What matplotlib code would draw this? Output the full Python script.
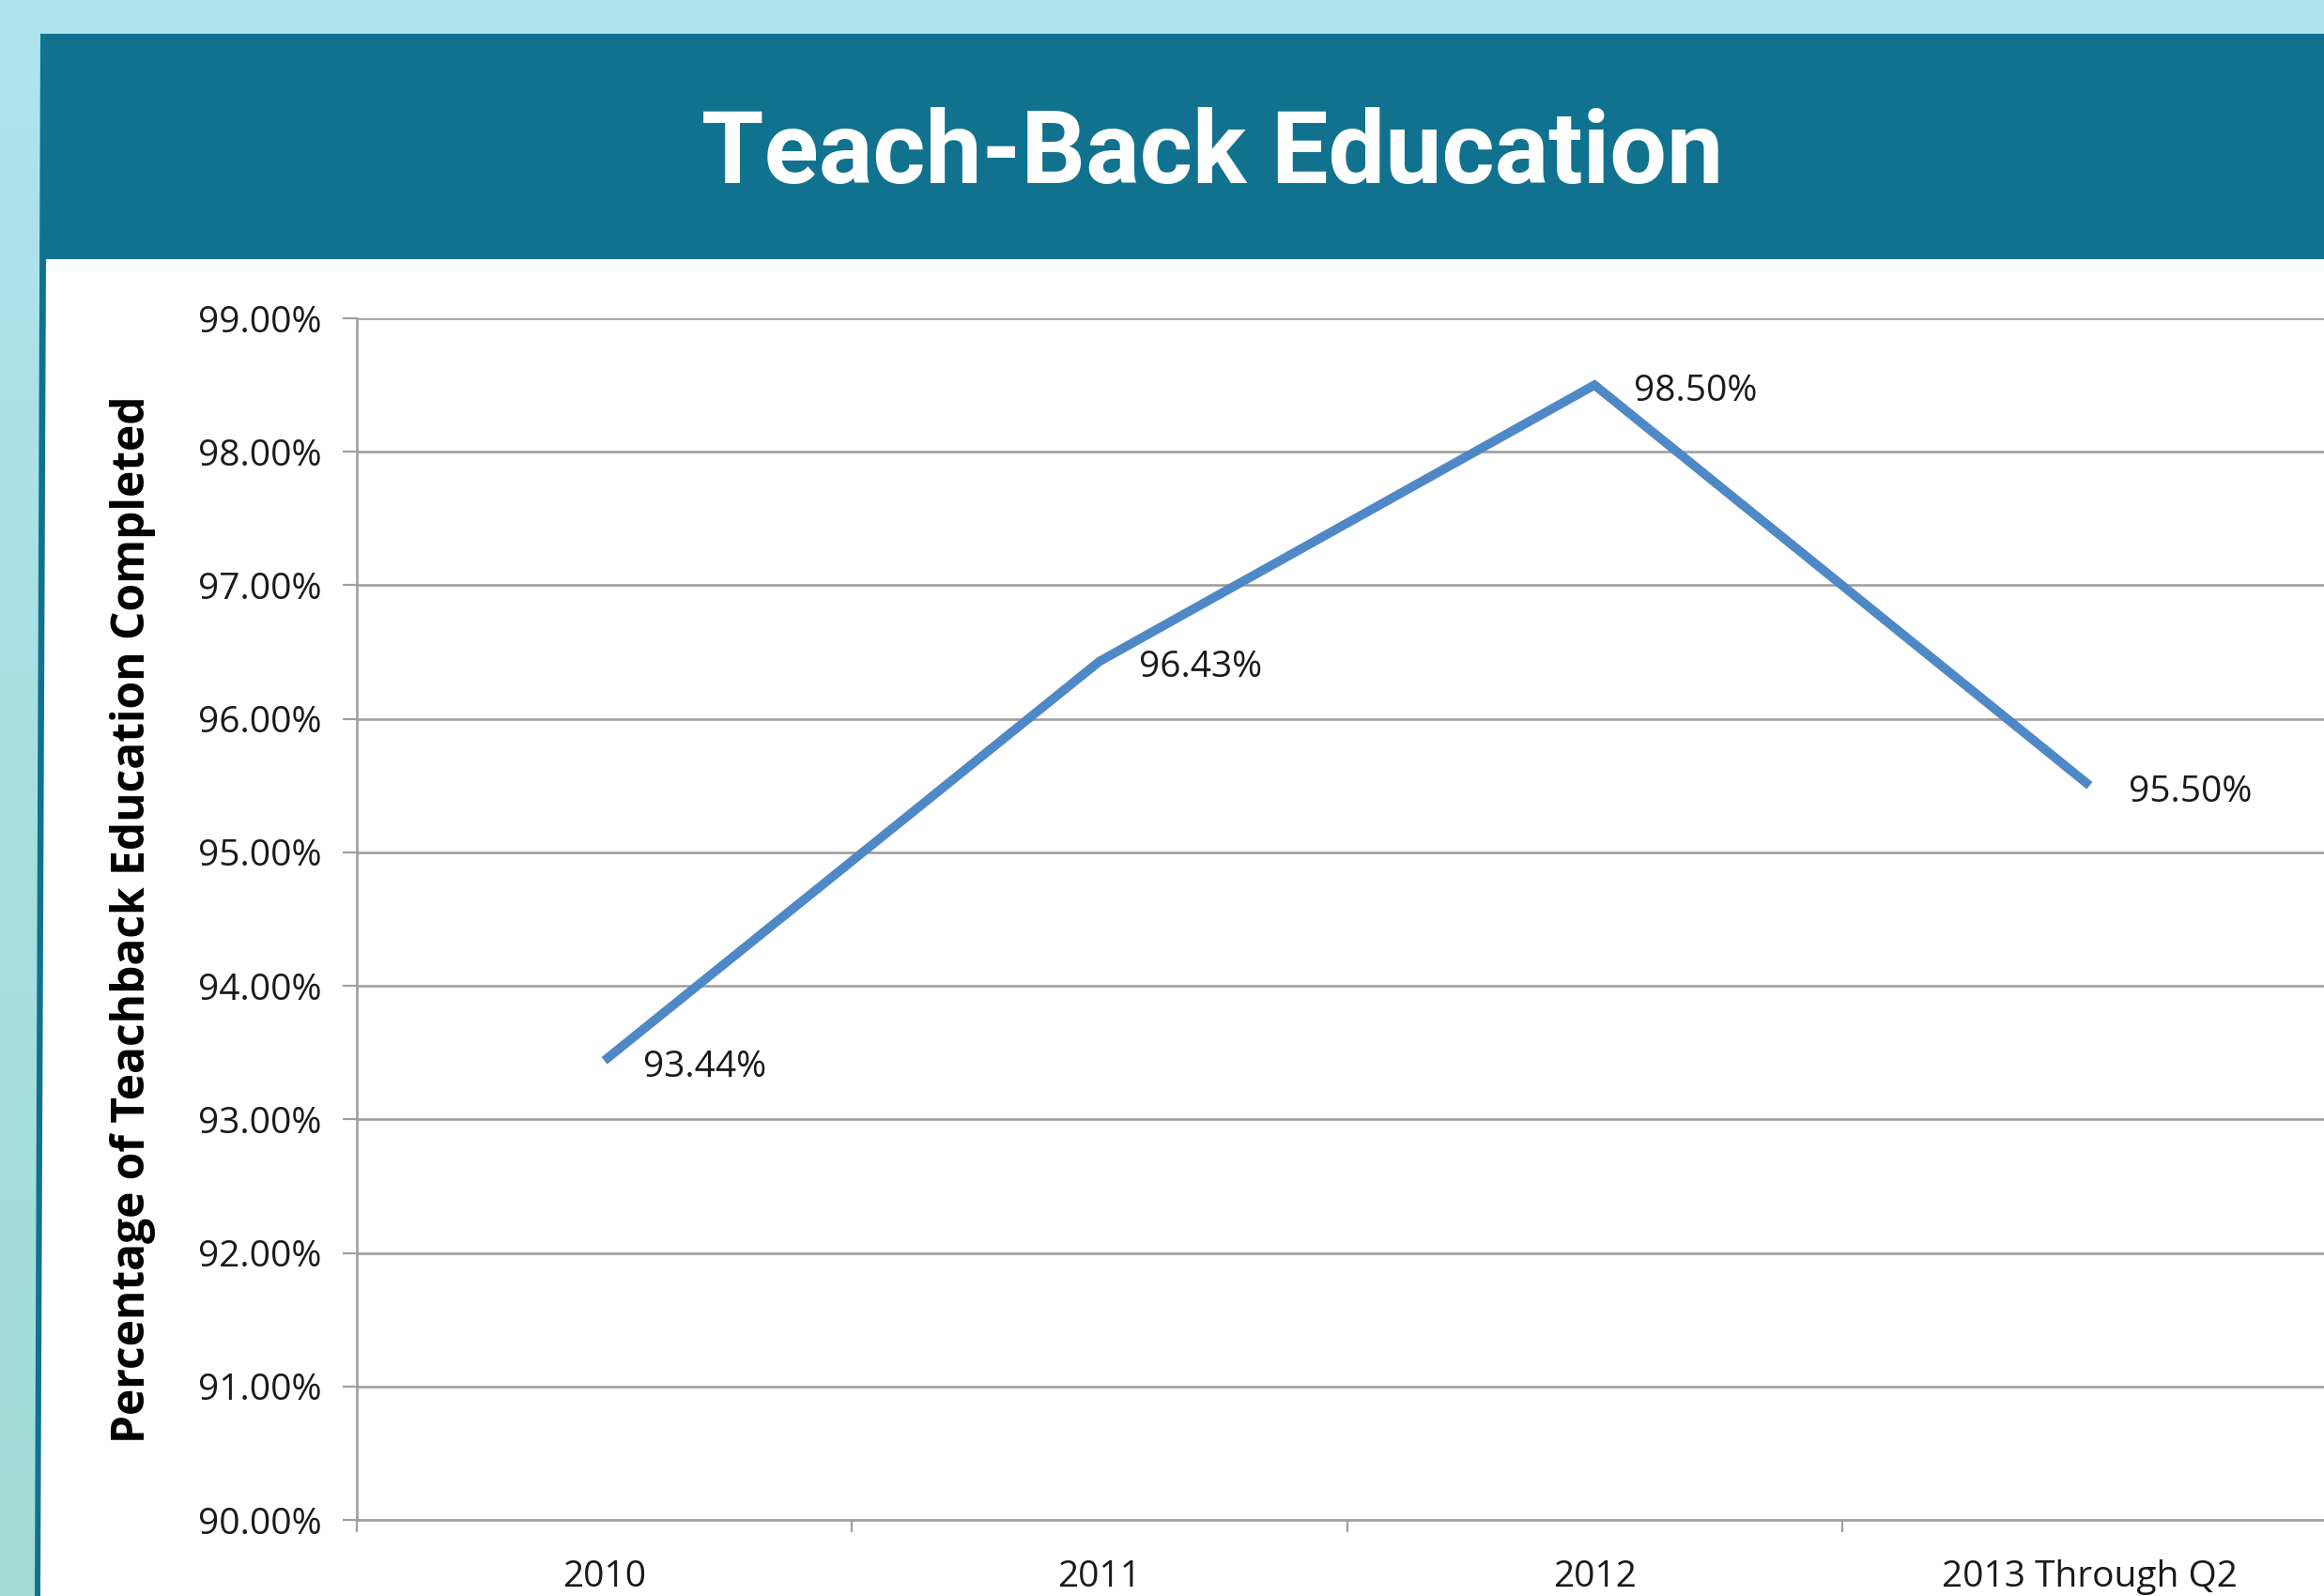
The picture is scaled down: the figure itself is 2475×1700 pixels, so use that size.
import numpy as np
import matplotlib.pyplot as plt
from matplotlib.patches import Polygon
from matplotlib.ticker import FuncFormatter


# data
categories = ['2010', '2011', '2012', '2013 Through Q2']
completed_pct = [93.44, 96.43, 98.50, 95.50]
y_ticks = [90, 91, 92, 93, 94, 95, 96, 97, 98, 99]

title = 'Teach-Back Education'
y_label = 'Percentage of Teachback Education Completed'

W, H = 2475, 1700
teal = '#11728f'
line_blue = '#4f88c6'
grid_gray = '#9f9f9f'
text_font = 'Open Sans'

fig = plt.figure(figsize=(W / 100, H / 100), dpi=100)

#  1. slide background: light gradient, teal header band and white chart area
bg = fig.add_axes([0, 0, 1, 1], zorder=0)
bg.set_xlim(0, W)
bg.set_ylim(H, 0)
bg.axis('off')

top_col = np.array([0xad, 0xe4, 0xee]) / 255
bot_col = np.array([0xa3, 0xdc, 0xd4]) / 255
t = np.linspace(0, 1, 256)[:, None]
grad = (top_col * (1 - t) + bot_col * t)[:, None, :]
bg.imshow(grad, extent=[0, W, H, 0], aspect='auto', zorder=0)

bg.add_patch(Polygon([(43, 36), (W, 36), (W, H), (37, H)], closed=True,
                     facecolor=teal, edgecolor='none', zorder=1))
bg.add_patch(Polygon([(49, 276), (W, 276), (W, H), (43, H)], closed=True,
                     facecolor='white', edgecolor='none', zorder=2))

bg.text(1291, 165, title, color='white', fontsize=77.5, fontweight='bold',
        family='Roboto', ha='center', va='center', zorder=3)

#  2. line chart
ax = fig.add_axes([380 / W, 1 - 1619 / H, (2489 - 380) / W, (1619 - 339) / H], zorder=1)
ax.patch.set_alpha(0)

x = np.arange(len(categories)) + 0.5
ax.plot(x, completed_pct, color=line_blue, linewidth=7,
        solid_joinstyle='miter', solid_capstyle='butt', zorder=3)

for xi, val in zip(x, completed_pct):
    ax.annotate(f'{val:.2f}%', (xi, val), xytext=(30, -5), textcoords='offset points',
                ha='left', va='center', fontsize=28, family=text_font, color='#1a1a1a')

ax.set_xlim(0, len(categories))
ax.set_ylim(90, 99)
ax.set_yticks(y_ticks)
ax.yaxis.set_major_formatter(FuncFormatter(lambda v, p: f'{v:.2f}%'))
ax.set_xticks(np.arange(len(categories) + 1), minor=False)
ax.set_xticklabels([])
ax.set_xticks(x, minor=True)
ax.set_xticklabels(categories, minor=True)

ax.tick_params(axis='x', which='major', length=9, width=1.6, color=grid_gray, direction='out')
ax.tick_params(axis='x', which='minor', length=0, pad=30, labelsize=28)
ax.tick_params(axis='y', length=11, width=1.6, color=grid_gray, pad=16, labelsize=28)
for lbl in ax.get_xticklabels(minor=True) + ax.get_yticklabels():
    lbl.set_family(text_font)
    lbl.set_color('#1a1a1a')

ax.grid(axis='y', color=grid_gray, linewidth=1.9)
ax.set_axisbelow(True)
for side in ['top', 'right']:
    ax.spines[side].set_visible(False)
for side in ['left', 'bottom']:
    ax.spines[side].set_color(grid_gray)
    ax.spines[side].set_linewidth(1.9)

ax.set_ylabel(y_label, fontsize=34.5, fontweight='bold', family=text_font,
              va='center', ha='center')
ax.yaxis.set_label_coords((142 - 380) / (2489 - 380), 0.5)

fig.savefig('out.png', dpi=100)
